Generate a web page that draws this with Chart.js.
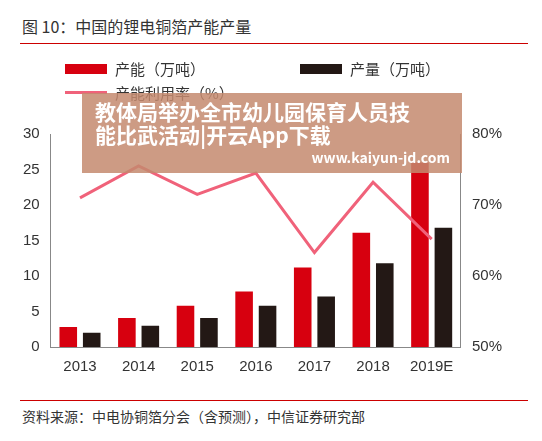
<!DOCTYPE html>
<html><head><meta charset="utf-8">
<script src="https://cdn.jsdelivr.net/npm/chart.js@4"></script>
<style>
body{margin:0;width:542px;height:441px;background:#fff;font-family:"Noto Sans CJK SC",sans-serif;position:relative;overflow:hidden}
#title{position:absolute;left:22px;top:14px;font-size:16px;color:#333}
#tl{position:absolute;left:20px;top:43px;width:508px;height:1px;background:#c00}
#bl{position:absolute;left:20px;top:400px;width:508px;height:1px;background:#c00}
#src{position:absolute;left:22px;top:406px;font-size:14px;color:#333}
#c{position:absolute;left:0;top:50px}
#leg{position:absolute;left:0;top:0;width:542px;font-size:15px;color:#333}
.li{position:absolute;display:flex;align-items:center}
#ban{position:absolute;left:82px;top:93px;width:380px;height:80px;background:rgba(196,138,110,0.85);color:#fff;font-weight:bold}
</style></head><body>
<div id="title">图 10：中国的锂电铜箔产能产量</div>
<div id="tl"></div>
<canvas id="c" width="505" height="329"></canvas>
<div id="leg">
<div class="li" style="left:65px;top:58px"><span style="display:inline-block;width:42px;height:10px;background:#d7000f;margin-right:8px"></span>产能（万吨）</div>
<div class="li" style="left:300px;top:58px"><span style="display:inline-block;width:42px;height:10px;background:#231815;margin-right:8px"></span>产量（万吨）</div>
<div class="li" style="left:65px;top:82px"><span style="display:inline-block;width:42px;height:3px;background:#f0627a;margin-right:8px"></span>产能利用率（%）</div>
</div>
<div id="ban"><div style="position:absolute;left:13px;top:7px;font-size:21px;line-height:23px;white-space:nowrap">教体局举办全市幼儿园保育人员技<br>能比武活动|开云App下载</div><div style="position:absolute;right:12px;top:54px;font-size:14px">www.kaiyun-jd.com</div></div>
<div id="bl"></div>
<div id="src">资料来源：中电协铜箔分会（含预测），中信证券研究部</div>
<script>
const years=['2013','2014','2015','2016','2017','2018','2019E'];
const capacity=[2.8,4.1,5.8,7.8,11.2,16.1,26];
const output=[2.0,3.0,4.1,5.8,7.1,11.8,16.8];
const utilization=[71,75.5,71.5,74.5,63.3,73.2,65.2];
new Chart(document.getElementById('c'),{
data:{labels:years,datasets:[
{type:'line',data:utilization,yAxisID:'y1',borderColor:'#f0627a',borderWidth:3,pointRadius:0,tension:0,order:0},
{type:'bar',data:capacity,backgroundColor:'#d7000f',yAxisID:'y',barPercentage:0.75,categoryPercentage:0.8,order:1},
{type:'bar',data:output,backgroundColor:'#231815',yAxisID:'y',barPercentage:0.75,categoryPercentage:0.8,order:1}]},
options:{responsive:false,animation:false,
layout:{padding:{top:84,left:20,right:0,bottom:0}},
plugins:{legend:{display:false},tooltip:{enabled:false}},
scales:{
x:{grid:{display:false},border:{color:'#888'},ticks:{color:'#333',font:{size:15},maxRotation:0}},
y:{min:0,max:30,ticks:{stepSize:5,color:'#333',font:{size:15}},grid:{display:false},border:{color:'#888'}},
y1:{position:'right',min:50,max:80,ticks:{stepSize:10,color:'#333',font:{size:15},callback:v=>v+'%'},grid:{display:false},border:{color:'#888'}}
}}});
</script>
</body></html>
